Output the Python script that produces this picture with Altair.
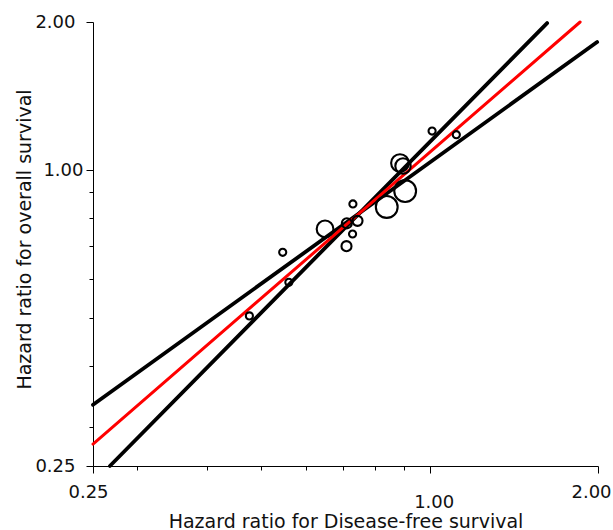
import altair as alt
import pandas as pd

# Study-level hazard ratios (disease-free survival vs overall survival)
dfs_hr = [0.476, 0.546, 0.560, 0.650, 0.710, 0.728, 0.729, 0.743, 0.711, 0.838, 0.885, 0.896, 0.904, 1.010, 1.116]
os_hr = [0.505, 0.680, 0.591, 0.759, 0.700, 0.741, 0.853, 0.788, 0.779, 0.841, 1.033, 1.019, 0.906, 1.200, 1.180]
study_weight = [36, 36, 36, 200, 72, 36, 36, 72, 72, 340, 225, 169, 340, 36, 36]

# Regression line and its confidence bounds (end points)
fit_x = [0.25, 1.858]
fit_y = [0.277, 2.0]
upper_x = [0.25, 1.993]
upper_y = [0.333, 1.821]
lower_x = [0.268, 1.622]
lower_y = [0.25, 1.99]

tick_values = [0.25, 0.3, 0.4, 0.5, 0.6, 0.7, 0.8, 0.9, 1.0, 2.0]

points = pd.DataFrame({"dfs": dfs_hr, "os": os_hr, "w": study_weight})
bounds = pd.DataFrame({
    "dfs": upper_x + lower_x,
    "os": upper_y + lower_y,
    "band": ["upper"] * 2 + ["lower"] * 2,
})
fit = pd.DataFrame({"dfs": fit_x, "os": fit_y})

FONT = "DejaVu Sans"
is_major = "datum.value == 0.25 || datum.value == 1 || datum.value == 2"
label_expr = f"({is_major}) ? format(datum.value, '.2f') : ''"

xscale = alt.Scale(type="log", base=2, domain=[0.25, 2], nice=False)
yscale = alt.Scale(type="log", base=2, domain=[0.25, 2], nice=False)

xaxis = alt.Axis(
    values=tick_values,
    labelExpr=label_expr,
    title="Hazard ratio for Disease-free survival",
    grid=False,
    domainColor="black",
    domainWidth=1,
    tickColor="black",
    tickWidth=1,
    tickSize={"condition": {"test": is_major, "value": 7}, "value": 4},
    labelPadding={"condition": {"test": "datum.value == 1", "value": 20}, "value": 10},
    labelOffset={"condition": [{"test": "datum.value == 0.25", "value": -5},
                               {"test": "datum.value == 1", "value": 4}], "value": -7},
    labelFlush=False,
    labelOverlap=False,
    labelBound=False,
    labelFont=FONT,
    labelFontSize=18,
    labelColor="#111111",
    titleFont=FONT,
    titleFontSize=19,
    titleFontWeight="normal",
    titleColor="#111111",
    titleBaseline="alphabetic",
    titleY=61,
)

yaxis = alt.Axis(
    values=tick_values,
    labelExpr=label_expr,
    title="Hazard ratio for overall survival",
    grid=False,
    domainColor="black",
    domainWidth=1,
    tickColor="black",
    tickWidth=1,
    tickSize={"condition": {"test": is_major, "value": 7}, "value": 4},
    labelPadding={"condition": {"test": "datum.value == 1", "value": 3}, "value": 11},
    labelFlush=False,
    labelOverlap=False,
    labelBound=False,
    labelFont=FONT,
    labelFontSize=18,
    labelColor="#111111",
    labelBaseline="middle",
    titleFont=FONT,
    titleFontSize=19,
    titleFontWeight="normal",
    titleColor="#111111",
    titleAngle=270,
    titleBaseline="alphabetic",
    titleX=-63,
    titleY=217,
)

bound_lines = alt.Chart(bounds).mark_line(color="black", strokeWidth=3.8, strokeCap="round").encode(
    x=alt.X("dfs:Q", scale=xscale, axis=xaxis),
    y=alt.Y("os:Q", scale=yscale, axis=yaxis),
    detail="band:N",
)

fit_line = alt.Chart(fit).mark_line(color="#ff0000", strokeWidth=3, strokeCap="round").encode(
    x=alt.X("dfs:Q", scale=xscale),
    y=alt.Y("os:Q", scale=yscale),
)

circles = alt.Chart(points).mark_point(
    shape="circle", filled=False, stroke="black", strokeWidth=2.1, opacity=1
).encode(
    x=alt.X("dfs:Q", scale=xscale),
    y=alt.Y("os:Q", scale=yscale),
    size=alt.Size("w:Q", scale=alt.Scale(domain=[0, 400], range=[0, 560]), legend=None),
)

chart = alt.layer(bound_lines, fit_line, circles).properties(
    width=505,
    height=444,
    autosize=alt.AutoSizeParams(type="none"),
    padding={"left": 93, "top": 22, "right": 15, "bottom": 64},
    background="white",
).configure_view(stroke="transparent")

chart.save("out.html", embed_options={"renderer": "svg", "actions": False})
